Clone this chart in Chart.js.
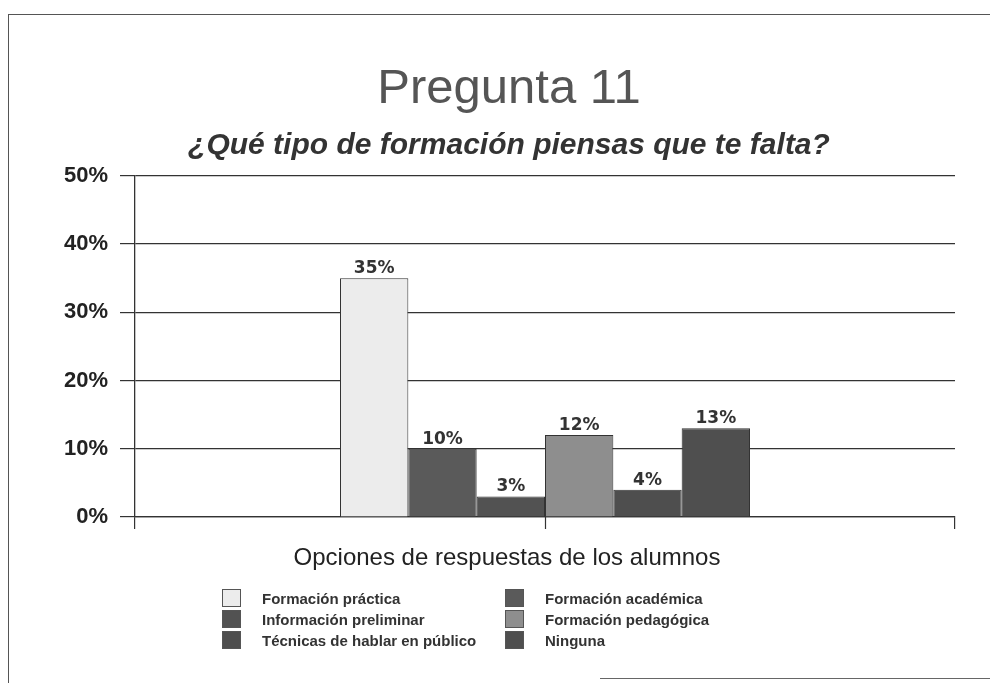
<!DOCTYPE html>
<html>
<head>
<meta charset="utf-8">
<script src="https://cdn.jsdelivr.net/npm/chart.js@4/dist/chart.umd.min.js"></script>
<style>
html, body { margin: 0; padding: 0; background: #fff; }
#wrap { position: relative; width: 990px; height: 683px; overflow: hidden; font-family: "Liberation Sans", Arial, sans-serif; }
#chart_canvas { position: absolute; left: 0; top: 0; }
#frame { position: absolute; left: 8px; top: 14px; width: 1000px; height: 700px; border-top: 1.5px solid #555; border-left: 1.5px solid #555; }
#bottom_line { position: absolute; left: 600px; top: 678px; width: 390px; height: 0; border-top: 1.5px solid #666; }
#x_title { position: absolute; left: 207px; width: 600px; top: 543px; line-height: 28px; text-align: center; font-size: 24px; color: #222; }
#legend { position: absolute; left: 222px; top: 589px; display: grid; grid-template-columns: 283px 240px; row-gap: 3px; }
.legend_item { display: flex; align-items: center; height: 18px; font-weight: bold; font-size: 15px; color: #333; white-space: nowrap; }
.legend_box { width: 19px; height: 18px; border: 1px solid #555; box-sizing: border-box; margin-right: 21px; }
</style>
</head>
<body>
<div id="wrap">
    <canvas id="chart_canvas" width="990" height="683"></canvas>
    <div id="frame"></div>
    <div id="bottom_line"></div>
    <div id="x_title">Opciones de respuestas de los alumnos</div>
    <div id="legend"></div>
</div>
<script>
const categories = [''];
const series_names = ['Formación práctica', 'Formación académica', 'Información preliminar', 'Formación pedagógica', 'Técnicas de hablar en público', 'Ninguna'];
const series_values = [35, 10, 3, 12, 4, 13];
const series_colors = ['#ececec', '#5a5a5a', '#525252', '#8e8e8e', '#4e4e4e', '#4f4f4f'];
const y_ticks = [0, 10, 20, 30, 40, 50];

const font_family = '"Liberation Sans", Arial, sans-serif';

// labels above each bar
const barLabels = {
    id: 'barLabels',
    afterDatasetsDraw(chart){
        const ctx = chart.ctx;
        ctx.save();
        ctx.font = 'bold 17px "DejaVu Sans", sans-serif';
        ctx.fillStyle = '#333';
        ctx.textAlign = 'center';
        ctx.textBaseline = 'bottom';
        chart.data.datasets.forEach((ds, i) => {
            chart.getDatasetMeta(i).data.forEach((bar, j) => {
                ctx.fillText(ds.data[j] + '%', bar.x, bar.y - 1);
            });
        });
        ctx.restore();
    }
};

// tick mark under the middle of the category
const centerTick = {
    id: 'centerTick',
    afterDraw(chart){
        const ctx = chart.ctx;
        const x = Math.round(chart.scales.x.getPixelForValue(0)) + 0.5;
        const y = chart.chartArea.bottom;
        ctx.save();
        ctx.strokeStyle = '#333';
        ctx.lineWidth = 1.2;
        ctx.beginPath();
        ctx.moveTo(x, y);
        ctx.lineTo(x, y + 12);
        ctx.stroke();
        ctx.restore();
    }
};

function buildLegend(){
    const legend = document.getElementById('legend');
    series_names.forEach((name, i) => {
        const item = document.createElement('div');
        item.className = 'legend_item';
        const box = document.createElement('span');
        box.className = 'legend_box';
        box.style.background = series_colors[i];
        const txt = document.createElement('span');
        txt.textContent = name;
        item.appendChild(box);
        item.appendChild(txt);
        legend.appendChild(item);
    });
}

function initChart(){
    const ctx = document.getElementById('chart_canvas').getContext('2d');
    const datasets = series_names.map((name, i) => ({
        label: name,
        data: [series_values[i]],
        backgroundColor: series_colors[i],
        borderColor: '#333',
        borderWidth: 1,
        categoryPercentage: 0.5,
        barPercentage: 1.0
    }));

    new Chart(ctx, {
        type: 'bar',
        data: {
            labels: categories,
            datasets: datasets
        },
        plugins: [barLabels, centerTick],
        options: {
            responsive: false,
            animation: false,
            layout: {
                padding: { top: 42, left: 63, right: 35, bottom: 154 }
            },
            plugins: {
                legend: { display: false },
                tooltip: { enabled: false },
                title: {
                    display: true,
                    text: 'Pregunta 11',
                    color: '#555',
                    font: { family: font_family, size: 49, weight: 'normal' },
                    padding: { top: 18, bottom: 9 }
                },
                subtitle: {
                    display: true,
                    text: '¿Qué tipo de formación piensas que te falta?',
                    color: '#333',
                    font: { family: font_family, size: 30, weight: 'bold', style: 'italic' },
                    padding: { top: 0, bottom: 12 }
                }
            },
            scales: {
                x: {
                    type: 'category',
                    offset: true,
                    grid: { offset: true, drawOnChartArea: false, tickLength: 12, color: '#333', lineWidth: 1.2 },
                    border: { color: '#333', width: 1.3 },
                    ticks: { display: false }
                },
                y: {
                    min: y_ticks[0],
                    max: y_ticks[y_ticks.length - 1],
                    afterBuildTicks(scale){
                        scale.ticks = y_ticks.map(v => ({ value: v }));
                    },
                    afterFit(scale){
                        scale.width = 72;
                    },
                    grid: { color: '#333', lineWidth: 1.2, tickLength: 15 },
                    border: { color: '#333', width: 1.3 },
                    ticks: {
                        color: '#222',
                        padding: 12,
                        font: { family: font_family, size: 22, weight: 'bold' },
                        callback: v => v + '%'
                    }
                }
            }
        }
    });
}

buildLegend();
initChart();
</script>
</body>
</html>
